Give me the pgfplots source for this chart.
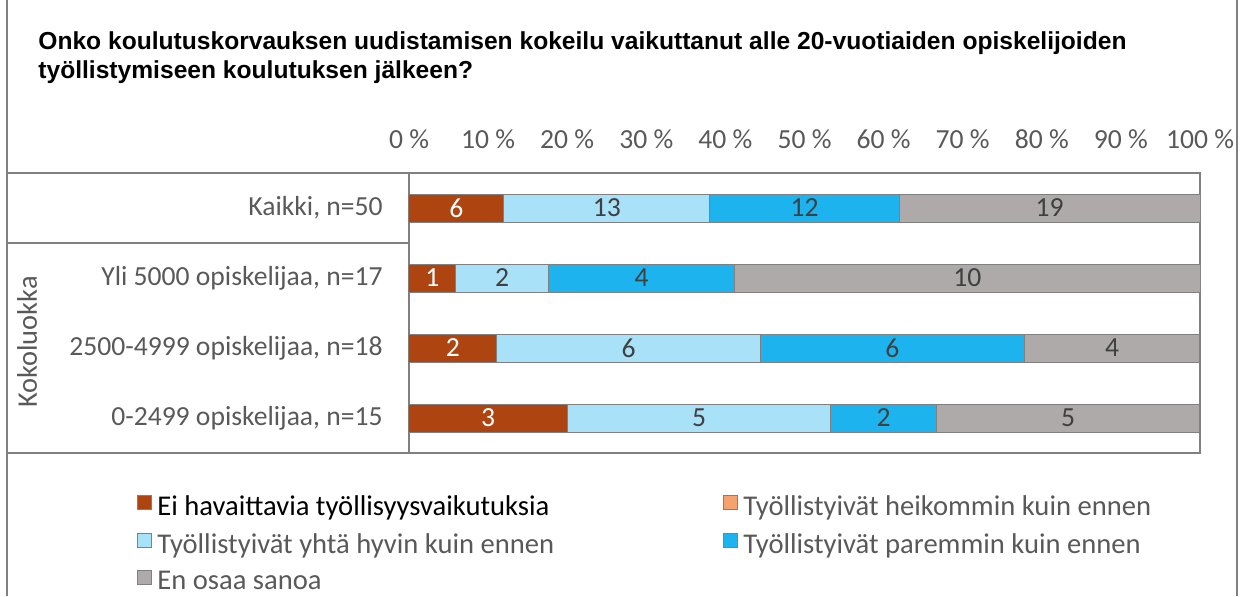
\documentclass[border=0pt]{standalone}
\usepackage{fontspec}
\setmainfont{Carlito}
\newfontfamily\titlefont{Liberation Sans}
\usepackage{pgfplots}
\usepackage{pgfplotstable}
\pgfplotsset{compat=1.18}
\definecolor{cBrown}{HTML}{AE4511}
\definecolor{cOrange}{HTML}{F5A26F}
\definecolor{cLight}{HTML}{A9E1F9}
\definecolor{cBlue}{HTML}{1CB3EF}
\definecolor{cGray}{HTML}{AEAAAA}
\definecolor{txtgray}{HTML}{595959}
\definecolor{lblgray}{HTML}{404040}
\definecolor{linegray}{HTML}{808080}

% y: 3 = Kaikki, 2 = Yli 5000, 1 = 2500-4999, 0 = 0-2499
\pgfplotstableread{
y pct n
3 12     6
2 5.882  1
1 11.111 2
0 20     3
}\tEi
\pgfplotstableread{
y pct n
3 26     13
2 11.765 2
1 33.333 6
0 33.333 5
}\tYhta
\pgfplotstableread{
y pct n
3 24     12
2 23.529 4
1 33.333 6
0 13.333 2
}\tParem
\pgfplotstableread{
y pct n
3 38     19
2 58.824 10
1 22.222 4
0 33.333 5
}\tEos

\begin{document}
\begin{tikzpicture}
\begin{scope}[x=0.5pt,y=-0.5pt]
\path[use as bounding box] (0,0) rectangle (1243,596);
\draw[linegray, line width=0.75pt] (7,0) -- (7,596);
\draw[linegray, line width=0.75pt] (1237,0) -- (1237,596);
\draw[linegray, line width=0.75pt] (7,173) -- (409,173);
\draw[linegray, line width=0.75pt] (7,243) -- (409,243);
\draw[linegray, line width=0.75pt] (7,453) -- (409,453);
\node[anchor=base west, inner sep=0pt, font=\titlefont\bfseries\fontsize{12.3}{14}\selectfont] at (38,49) {Onko koulutuskorvauksen uudistamisen kokeilu vaikuttanut alle 20-vuotiaiden opiskelijoiden};
\node[anchor=base west, inner sep=0pt, font=\titlefont\bfseries\fontsize{12.3}{14}\selectfont] at (38,78) {työllistymiseen koulutuksen jälkeen?};
\node[rotate=90, inner sep=0pt, text=txtgray, font=\fontsize{14.2}{16}\selectfont] at (27,342) {Kokoluokka};
\end{scope}
\begin{axis}[
  at={(204.5pt,-226.5pt)}, anchor=south west,
  scale only axis, width=395.5pt, height=140pt,
  xbar stacked, bar width=14pt,
  xmin=0, xmax=100, ymin=-0.5, ymax=3.5,
  axis line style={linegray, line width=0.75pt},
  major tick length=0pt,
  /pgf/number format/assume math mode=true,
  xtick={0,10,...,100},
  xticklabels={0 \%,10 \%,20 \%,30 \%,40 \%,50 \%,60 \%,70 \%,80 \%,90 \%,100 \%},
  xticklabel pos=upper,
  xticklabel style={anchor=center, inner sep=0pt, yshift=17pt, text=txtgray, font=\fontsize{13.8}{16}\selectfont},
  ytick={0,1,2,3},
  yticklabels={0-2499 opiskelijaa{,} n=15, 2500-4999 opiskelijaa{,} n=18, Yli 5000 opiskelijaa{,} n=17, Kaikki{,} n=50},
  yticklabel style={anchor=east, inner sep=0pt, xshift=-13pt, text=txtgray, font=\fontsize{13.8}{16}\selectfont},
  every axis plot/.append style={draw=linegray, line width=0.5pt},
  nodes near coords,
  point meta=explicit,
  nodes near coords style={anchor=center, font=\fontsize{13.8}{16}\selectfont, text=lblgray},
  legend columns=2,
  legend cell align=left,
  legend style={at={(-0.3439,-0.1375)}, anchor=north west, draw=none, fill=none,
    inner sep=0pt, row sep=3.5pt, column sep=0.5pt,
    font=\fontsize{14.3}{16}\selectfont, text=txtgray,
    /tikz/every even column/.append style={column sep=82.5pt}},
  legend image code/.code={\draw[#1, draw=linegray, line width=0.5pt] (0pt,-1pt) rectangle (7pt,6pt);},
]
\addplot[fill=cBrown, every node near coord/.append style={text=white}] table[x=pct, y=y, meta=n] {\tEi};
\addlegendentry{\textcolor{black}{Ei havaittavia työllisyysvaikutuksia}}
\addlegendimage{fill=cOrange, draw=linegray}
\addlegendentry{Työllistyivät heikommin kuin ennen}
\addplot[fill=cLight] table[x=pct, y=y, meta=n] {\tYhta};
\addlegendentry{Työllistyivät yhtä hyvin kuin ennen}
\addplot[fill=cBlue] table[x=pct, y=y, meta=n] {\tParem};
\addlegendentry{Työllistyivät paremmin kuin ennen}
\addplot[fill=cGray] table[x=pct, y=y, meta=n] {\tEos};
\addlegendentry{En osaa sanoa}
\end{axis}
\end{tikzpicture}
\end{document}
